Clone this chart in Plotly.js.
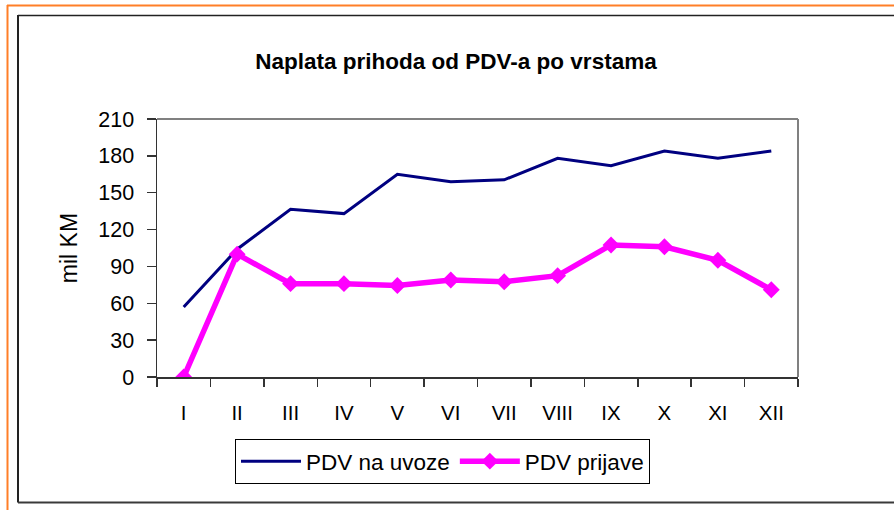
<!DOCTYPE html>
<html>
<head>
<meta charset="utf-8">
<script src="https://cdn.plot.ly/plotly-3.0.1.min.js"></script>
<style>
  html, body { margin: 0; padding: 0; background: #fff; }
  #chart { width: 894px; height: 510px; }
</style>
</head>
<body>
<div id="chart"></div>
<script>
var months = ['I', 'II', 'III', 'IV', 'V', 'VI', 'VII', 'VIII', 'IX', 'X', 'XI', 'XII'];
var pdvUvoz = [57, 104, 136.5, 133, 165, 159, 160.5, 178, 172, 184, 178, 184];
var pdvPrijave = [0, 100, 76, 76, 74.5, 79, 77.5, 82.5, 107.5, 106, 95, 71];
var yTicks = [0, 30, 60, 90, 120, 150, 180, 210];

// plot area in pixels
var L = 157, R = 798, T = 119, B = 377;
function px(x) { return (x - L) / (R - L); }
function py(y) { return (B - y) / (B - T); }

var traces = [
  {
    x: months, y: pdvUvoz, name: 'PDV na uvoze', type: 'scatter', mode: 'lines',
    line: { color: '#000080', width: 3 }
  },
  {
    x: months, y: pdvPrijave, name: 'PDV prijave', type: 'scatter', mode: 'lines+markers',
    line: { color: '#FF00FF', width: 5.5 },
    marker: { symbol: 'diamond', size: 13, color: '#FF00FF' }
  }
];

var layout = {
  width: 894, height: 510,
  margin: { l: L, r: 894 - R, t: T, b: 510 - B },
  paper_bgcolor: '#ffffff', plot_bgcolor: '#ffffff',
  font: { family: 'Liberation Sans, Arial, sans-serif', color: '#000000', size: 20 },
  title: {
    text: '<b>Naplata prihoda od PDV-a po vrstama</b>',
    font: { size: 22.5, color: '#000000' },
    xref: 'container', yref: 'container',
    x: 456 / 894, y: 1 - 61 / 510, xanchor: 'center', yanchor: 'middle'
  },
  showlegend: true,
  legend: {
    orientation: 'h',
    x: px(235), y: py(439), xanchor: 'left', yanchor: 'top',
    bordercolor: '#000000', borderwidth: 1, bgcolor: '#ffffff',
    font: { size: 22.5 },
    itemwidth: 60,
    tracegroupgap: 0
  },
  xaxis: {
    type: 'category',
    tickmode: 'array', tickvals: months, ticktext: months,
    range: [-0.5, 11.5],
    showgrid: false, zeroline: false,
    showline: true, linecolor: '#333333', linewidth: 1.5,
    ticks: 'outside', ticklen: 8, tickcolor: '#333333', tickwidth: 1.5,
    tickson: 'boundaries',
    ticklabelstandoff: 17,
    tickfont: { size: 20.5 },
    fixedrange: true
  },
  yaxis: {
    range: [0, 210],
    tickmode: 'array', tickvals: yTicks,
    showgrid: false, zeroline: false,
    showline: true, linecolor: '#333333', linewidth: 1.5,
    ticks: 'outside', ticklen: 9, tickcolor: '#333333', tickwidth: 1.5,
    ticklabelstandoff: 8,
    tickfont: { size: 21.5 },
    title: { text: 'mil KM', font: { size: 23 }, standoff: 14 },
    automargin: true,
    fixedrange: true
  },
  shapes: [
    // plot-area frame (top & right, gray)
    { type: 'line', xref: 'paper', yref: 'paper', x0: 0, x1: 1, y0: 1, y1: 1, line: { color: '#808080', width: 2 } },
    { type: 'line', xref: 'paper', yref: 'paper', x0: 1, x1: 1, y0: 0, y1: 1, line: { color: '#808080', width: 2 } },
    // chart-area border (dark)
    { type: 'line', xref: 'paper', yref: 'paper', x0: px(18), x1: px(900), y0: py(15.5), y1: py(15.5), line: { color: '#222222', width: 1.5 } },
    { type: 'line', xref: 'paper', yref: 'paper', x0: px(18), x1: px(18), y0: py(15), y1: py(502.5), line: { color: '#222222', width: 2 } },
    { type: 'line', xref: 'paper', yref: 'paper', x0: px(18), x1: px(900), y0: py(502.5), y1: py(502.5), line: { color: '#3a3a3a', width: 2 } },
    // outer orange frame
    { type: 'line', xref: 'paper', yref: 'paper', x0: px(7), x1: px(900), y0: py(5.5), y1: py(5.5), line: { color: '#FF7F27', width: 2 } },
    { type: 'line', xref: 'paper', yref: 'paper', x0: px(7.5), x1: px(7.5), y0: py(5), y1: py(515), line: { color: '#FF7F27', width: 2 } }
  ]
};

Plotly.newPlot('chart', traces, layout, { staticPlot: true, displayModeBar: false });
</script>
</body>
</html>
